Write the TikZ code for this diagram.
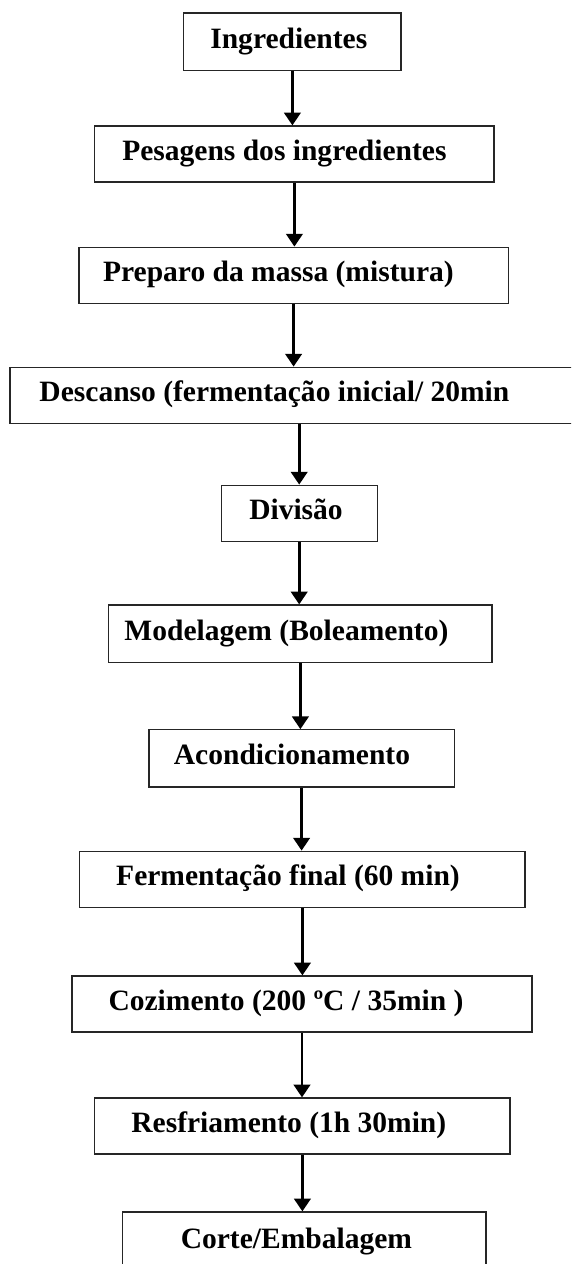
\documentclass[tikz,border=0pt]{standalone}
\usepackage{fontspec}
\setmainfont{Liberation Serif}
\usepackage{tikz}
\usetikzlibrary{arrows.meta,positioning}

\begin{document}
\begin{tikzpicture}[
    stepbox/.style={draw=black!85, line width=0.85pt, minimum height=1.4cm, inner sep=0pt},
    steptext/.style={font=\fontsize{21pt}{24pt}\selectfont\bfseries, text height=0.55em, text depth=0.3em, inner sep=0pt, yshift=-0.12cm},
    flowarrow/.style={line width=2.1pt, -{Triangle[length=0.32cm, width=0.41cm]}}
  ]
  % page frame (571 x 1264 px)
  \useasboundingbox (0,0) rectangle (14.275,-31.6);
  \clip (0,0) rectangle (14.275,-31.6);

  % Steps
  \node[stepbox, minimum width=5.43cm, minimum height=1.43cm,
        label={[steptext, xshift=-0.09cm]center:Ingredientes}] (ingr) at (7.31,-1.04) {};
  \node[stepbox, minimum width=9.98cm,
        label={[steptext, xshift=-0.25cm]center:Pesagens dos ingredientes}] (pesag) at (7.36,-3.85) {};
  \node[stepbox, minimum width=10.73cm,
        label={[steptext, xshift=-0.38cm]center:Preparo da massa (mistura)}] (prep) at (7.34,-6.88) {};
  \node[stepbox, minimum width=14.5cm,
        label={[steptext, xshift=-0.64cm]center:Descanso (fermentação inicial/ 20min}] (desc) at (7.50,-9.88) {};
  \node[stepbox, minimum width=3.90cm,
        label={[steptext, xshift=-0.08cm]center:Divisão}] (div) at (7.48,-12.83) {};
  \node[stepbox, minimum width=9.58cm, minimum height=1.43cm,
        label={[steptext, xshift=-0.35cm]center:Modelagem (Boleamento)}] (model) at (7.51,-15.84) {};
  \node[stepbox, minimum width=7.63cm, minimum height=1.43cm,
        label={[steptext, xshift=-0.24cm]center:Acondicionamento}] (acond) at (7.54,-18.96) {};
  \node[stepbox, minimum width=11.13cm,
        label={[steptext, xshift=-0.36cm]center:Fermentação final (60 min)}] (ferm) at (7.56,-21.98) {};
  \node[stepbox, minimum width=11.50cm,
        label={[steptext, xshift=-0.40cm]center:Cozimento (200 ºC / 35min )}] (coz) at (7.55,-25.10) {};
  \node[stepbox, minimum width=10.38cm,
        label={[steptext, xshift=-0.34cm]center:Resfriamento (1h 30min)}] (resf) at (7.56,-28.15) {};
  \node[stepbox, minimum width=9.08cm, minimum height=1.5cm,
        label={[steptext, xshift=-0.20cm]center:Corte/Embalagem}] (corte) at (7.61,-31.05) {};

  % Arrows
  \draw[flowarrow] (ingr.south) -- (ingr.south |- pesag.north);
  \draw[flowarrow] (pesag.south) -- (pesag.south |- prep.north);
  \draw[flowarrow] (prep.south) -- (prep.south |- desc.north);
  \draw[flowarrow] (div.north |- desc.south) -- (div.north);
  \draw[flowarrow] (div.south) -- (div.south |- model.north);
  \draw[flowarrow] (model.south) -- (model.south |- acond.north);
  \draw[flowarrow] (acond.south) -- (acond.south |- ferm.north);
  \draw[flowarrow] (ferm.south) -- (ferm.south |- coz.north);
  \draw[flowarrow] (coz.south) -- (coz.south |- resf.north);
  \draw[flowarrow] (resf.south) -- (resf.south |- corte.north);
\end{tikzpicture}
\end{document}
